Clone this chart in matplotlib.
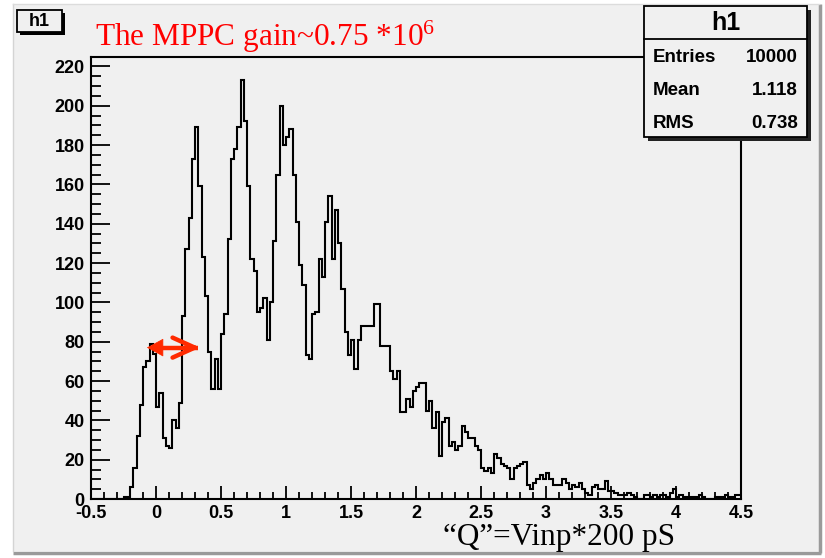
import numpy as np
import matplotlib.pyplot as plt
from matplotlib.patches import Rectangle, FancyArrowPatch

# ============================================================
# ROOT-style charge histogram "h1" (MPPC gain)
# 200 bins from -0.5 to 4.5, counts
# ============================================================

X_MIN = -0.5
X_MAX = 4.5
N_BINS = 200

counts = [
    # -0.5 .. -0.025
    0, 0, 0, 0, 0, 0, 0, 0, 0, 0,
    1, 1, 6, 16, 32, 48, 67, 70, 79, 74,
    # 0.0 .. 0.475
    47, 54, 31, 27, 26, 40, 36, 49, 93, 127,
    143, 173, 189, 159, 123, 103, 75, 56, 71, 56,
    # 0.5 .. 0.975
    84, 94, 132, 173, 178, 189, 213, 192, 159, 122,
    116, 95, 97, 102, 81, 100, 131, 165, 200, 180,
    # 1.0 .. 1.475
    184, 188, 165, 141, 119, 109, 73, 71, 94, 95,
    122, 113, 141, 154, 122, 147, 130, 107, 85, 73,
    # 1.5 .. 1.975
    81, 66, 81, 88, 88, 88, 88, 99, 99, 78,
    78, 78, 65, 61, 65, 44, 44, 51, 47, 55,
    # 2.0 .. 2.475
    57, 59, 59, 45, 50, 36, 44, 22, 39, 41,
    27, 29, 25, 27, 37, 34, 31, 31, 27, 25,
    # 2.5 .. 2.975
    16, 14, 16, 13, 23, 21, 18, 17, 16, 10,
    16, 17, 18, 19, 7, 5, 8, 10, 12, 10,
    # 3.0 .. 3.475
    13, 10, 7, 7, 7, 10, 8, 5, 7, 6,
    8, 5, 3, 2, 6, 7, 5, 5, 9, 4,
    # 3.5 .. 4.475
    4, 3, 2, 2, 2, 3, 2, 1, 0, 0,
    2, 2, 1, 2, 1, 2, 2, 1, 3, 5,
    1, 2, 1, 1, 1, 1, 1, 2, 1, 0,
    0, 0, 1, 1, 1, 2, 1, 1, 2, 2,
]

stat_names = ["Entries", "Mean", "RMS"]
stat_values = ["10000", "1.118", "0.738"]

hist_name = "h1"
gain_text = "The MPPC gain~0.75 *10$^{6}$"
xlabel_text = "\u201cQ\u201d=Vinp*200 pS"

y_ticks = np.arange(0, 221, 20)
x_ticks = np.arange(-0.5, 4.51, 0.5)

# arrow marking the peak-to-peak distance (data coords)
arrow_y = 77
arrow_x0 = -0.07
arrow_x1 = 0.34

BG = "#f0f0f0"
RED = "#ff2a00"
W, H = 825, 558


def main():
    plt.rcParams["mathtext.fontset"] = "custom"
    plt.rcParams["mathtext.rm"] = "Liberation Serif"
    plt.rcParams["mathtext.it"] = "Liberation Serif:italic"
    plt.rcParams["mathtext.bf"] = "Liberation Serif:bold"

    fig = plt.figure(figsize=(W / 100, H / 100), dpi=100, facecolor="white")

    # ---------- canvas background (pixel coords) ----------
    bg = fig.add_axes([0, 0, 1, 1], zorder=0)
    bg.set_xlim(0, W)
    bg.set_ylim(H, 0)
    bg.axis("off")
    bg.add_patch(Rectangle((13, 4), 806, 547, facecolor=BG, edgecolor="none"))
    bg.plot([13, 821], [552.5, 552.5], color="#9a9a9a", lw=2.5, solid_capstyle="butt")
    bg.plot([820, 820], [4, 553], color="#9a9a9a", lw=2.5, solid_capstyle="butt")
    bg.plot([13, 13], [4, 551], color="#d4d4d4", lw=1)
    bg.plot([13, 819], [4, 4], color="#dcdcdc", lw=1)

    # ---------- histogram frame ----------
    left, right, top, bottom = 91, 741, 57, 499
    ax = fig.add_axes([left / W, 1 - bottom / H, (right - left) / W, (bottom - top) / H],
                      zorder=1)
    ax.set_facecolor("none")

    edges = np.linspace(X_MIN, X_MAX, N_BINS + 1)
    ax.stairs(counts, edges, color="black", lw=1.5, baseline=None)

    ax.set_xlim(X_MIN, X_MAX)
    ax.set_ylim(0, 224.8)

    ax.set_xticks(x_ticks)
    ax.set_xticklabels([f"{v:g}" for v in x_ticks])
    ax.set_xticks(np.arange(-0.5, 4.51, 0.1), minor=True)
    ax.set_yticks(y_ticks)
    ax.set_yticklabels([str(v) for v in y_ticks])
    ax.set_yticks(np.arange(0, 225, 5), minor=True)

    ax.tick_params(axis="x", which="major", direction="in", length=9.5, width=1.3,
                   pad=4, top=False)
    ax.tick_params(axis="x", which="minor", direction="in", length=4.7, width=1.3, top=False)
    ax.tick_params(axis="y", which="major", direction="in", length=14, width=1.3,
                   pad=4.5, right=False)
    ax.tick_params(axis="y", which="minor", direction="in", length=7, width=1.3, right=False)
    for lab in ax.get_xticklabels() + ax.get_yticklabels():
        lab.set_fontfamily("Liberation Sans")
        lab.set_fontweight("bold")
        lab.set_fontsize(13)
    for sp in ax.spines.values():
        sp.set_linewidth(1.5)
        sp.set_color("black")

    # red double arrow: filled head on the left, open head on the right
    ax.plot([arrow_x0 + 0.06, arrow_x1 - 0.015], [arrow_y, arrow_y], color=RED,
            lw=3.2, solid_capstyle="butt")
    ax.add_patch(FancyArrowPatch((arrow_x0 + 0.1, arrow_y), (arrow_x0, arrow_y),
                                 arrowstyle="-|>,head_length=0.55,head_width=0.3",
                                 mutation_scale=20, color=RED, lw=0.5,
                                 shrinkA=0, shrinkB=0))
    ax.add_patch(FancyArrowPatch((arrow_x1 - 0.12, arrow_y), (arrow_x1, arrow_y),
                                 arrowstyle="->,head_length=0.8,head_width=0.36",
                                 mutation_scale=20, color=RED, lw=3.2,
                                 capstyle="round", shrinkA=0, shrinkB=0))

    # ---------- overlay: title box, stats box, texts ----------
    ov = fig.add_axes([0, 0, 1, 1], zorder=2)
    ov.set_xlim(0, W)
    ov.set_ylim(H, 0)
    ov.axis("off")

    # title box "h1"
    ov.add_patch(Rectangle((20, 13), 45, 22, facecolor="black", edgecolor="none"))
    ov.add_patch(Rectangle((17, 10), 45, 22, facecolor=BG, edgecolor="black", lw=1.3))
    ov.text(39.5, 21.5, hist_name, ha="center", va="center", fontsize=13,
            fontweight="bold", family="Liberation Sans")

    # stats box
    bx0, by0, bw, bh = 644, 6, 163, 131
    ov.add_patch(Rectangle((bx0 + 4, by0 + 4), bw, bh, facecolor="#222222", edgecolor="none"))
    ov.add_patch(Rectangle((bx0, by0), bw, bh, facecolor=BG, edgecolor="black", lw=1.3))
    ov.plot([bx0, bx0 + bw], [39, 39], color="black", lw=1.3)
    ov.text(bx0 + bw / 2, 23, hist_name, ha="center", va="center", fontsize=18,
            fontweight="bold", family="Liberation Sans")
    for i, (name, val) in enumerate(zip(stat_names, stat_values)):
        yy = 58 + i * 32.5
        ov.text(bx0 + 9, yy, name, ha="left", va="center", fontsize=13.5,
                fontweight="bold", family="Liberation Sans")
        ov.text(bx0 + bw - 9, yy, val, ha="right", va="center", fontsize=13.5,
                fontweight="bold", family="Liberation Sans")

    ov.text(95, 46, gain_text, ha="left", va="baseline", color="#ff0000",
            fontsize=22.5, family="Liberation Serif")
    ov.text(443, 545, xlabel_text, ha="left", va="baseline", color="black",
            fontsize=22.5, family="Liberation Serif")

    fig.savefig("out.png", dpi=100, facecolor="white")
    plt.close(fig)


if __name__ == "__main__":
    main()
